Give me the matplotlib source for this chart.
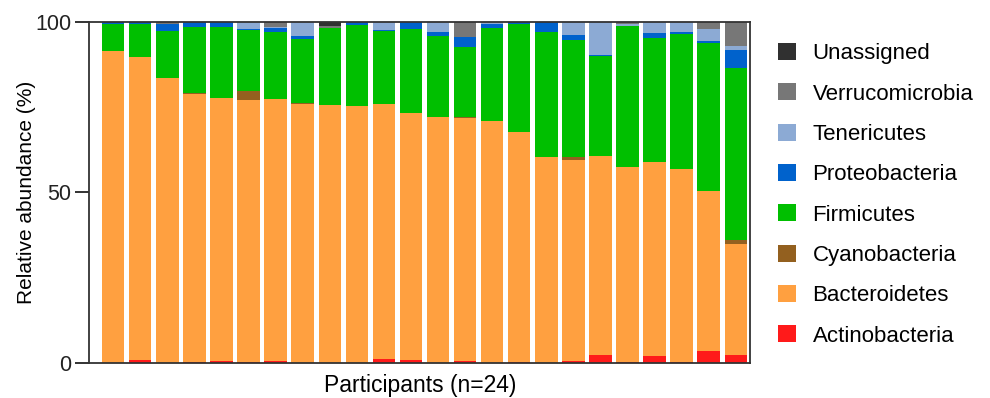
import matplotlib
matplotlib.use("Agg")
import matplotlib.pyplot as plt
import numpy as np

plt.rcParams['font.family'] = ['Liberation Sans', 'DejaVu Sans']

# phyla, bottom to top of each stack
phyla = ['Actinobacteria', 'Bacteroidetes', 'Cyanobacteria', 'Firmicutes',
         'Proteobacteria', 'Tenericutes', 'Verrucomicrobia', 'Unassigned']
colors = ['#ff1a1a', '#ffa040', '#93601f', '#00bf00',
          '#0062cc', '#8caad4', '#777777', '#303030']

# relative abundance (%) per participant
actinobacteria = [0, 0.8, 0, 0.2, 0.5, 0.2, 0.5, 0, 0, 0, 1.1, 0.8,
                  0, 0.5, 0, 0.3, 0, 0.5, 2.2, 0.3, 2.0, 0.2, 3.4, 2.2]
bacteroidetes = [91.5, 88.8, 83.6, 78.6, 77.1, 76.9, 76.9, 75.9, 75.5, 75.2, 74.9, 72.4,
                 72.0, 71.3, 70.8, 67.3, 60.4, 59.0, 58.6, 57.3, 56.9, 56.7, 47.0, 32.6]
cyanobacteria = [0, 0, 0, 0.3, 0, 2.5, 0, 0.2, 0, 0, 0, 0,
                 0, 0.2, 0, 0, 0, 0.9, 0, 0, 0, 0, 0, 1.4]
firmicutes = [7.9, 9.7, 13.8, 19.4, 20.9, 17.9, 19.6, 19.0, 22.7, 23.9, 21.2, 24.6,
              23.9, 20.7, 27.4, 31.8, 36.6, 34.3, 29.1, 41.1, 36.3, 39.6, 43.4, 50.2]
proteobacteria = [0.6, 0.7, 2.0, 1.5, 1.5, 0.3, 1.2, 0.8, 0, 0.9, 0.3, 2.2,
                  1.1, 2.8, 1.1, 0.6, 3.0, 1.5, 0.5, 0, 1.4, 0.6, 0.5, 5.3]
tenericutes = [0, 0, 0, 0, 0, 2.2, 0.4, 4.1, 0, 0, 2.5, 0,
               3.0, 0, 0.7, 0, 0, 3.8, 9.6, 0.7, 3.4, 2.9, 3.5, 1.1]
verrucomicrobia = [0, 0, 0.6, 0, 0, 0, 1.4, 0, 0.6, 0, 0, 0,
                   0, 4.5, 0, 0, 0, 0, 0, 0.6, 0, 0, 2.2, 7.2]
unassigned = [0, 0, 0, 0, 0, 0, 0, 0, 1.2, 0, 0, 0,
              0, 0, 0, 0, 0, 0, 0, 0, 0, 0, 0, 0]

series = [actinobacteria, bacteroidetes, cyanobacteria, firmicutes,
          proteobacteria, tenericutes, verrucomicrobia, unassigned]

fig = plt.figure(figsize=(9.9, 3.98), dpi=100)
ax = fig.add_axes([0.090, 0.088, 0.668, 0.857])

x = np.arange(len(bacteroidetes))
bottom = np.zeros(len(x))
handles = []
for name, vals, col in zip(phyla, series, colors):
    b = ax.bar(x, vals, bottom=bottom, width=0.83, color=col, label=name, linewidth=0)
    handles.append(b)
    bottom += np.array(vals)

ax.set_xlim(-0.89, 23.54)
ax.set_ylim(0, 100)
ax.set_yticks([0, 50, 100])
ax.set_xticks([])
ax.tick_params(axis='y', labelsize=15.5, length=10, width=1.3, pad=3, colors='#222222')
for s in ax.spines.values():
    s.set_linewidth(1.3)
    s.set_color('#333333')
ax.set_ylabel('Relative abundance (%)', fontsize=15, labelpad=-1)
ax.set_xlabel('Participants (n=24)', fontsize=16.5, labelpad=8)

fig.legend(handles[::-1], phyla[::-1], loc='upper left', bbox_to_anchor=(0.786, 0.892),
           frameon=False, fontsize=16, borderpad=0, borderaxespad=0,
           handlelength=0.8, handleheight=0.8, handletextpad=0.75, labelspacing=0.86)

fig.savefig('out.png', dpi=100)
